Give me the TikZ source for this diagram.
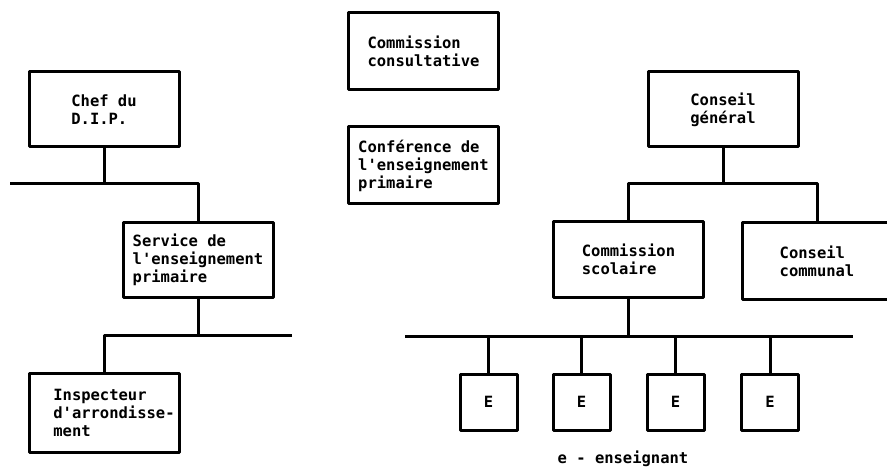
\documentclass[tikz,border=0pt]{standalone}
\usepackage{fontspec}
\setmonofont{DejaVu Sans Mono}
\newcommand{\indentline}{\hspace*{20pt}}
\begin{document}
\begin{tikzpicture}[x=1pt,y=-1pt,
  line width=3pt, line join=round,
  every node/.style={font=\ttfamily\bfseries\fontsize{15.5}{18}\selectfont},
  box/.style={draw, align=left, inner sep=0pt, minimum width=150pt, minimum height=75pt},
  ebox/.style={draw, inner sep=0pt, minimum width=57pt, minimum height=56pt}]
\useasboundingbox (0,0) rectangle (887,468);

% left: cantonal administration
\node[box] (chef) at (104,109.5) {Chef du\\D.I.P.};
\node[box] (serv) at (198,260) {Service de\\l'enseignement\\primaire};
\node[box, minimum height=79pt] (insp) at (104,412.5)
  {\indentline Inspecteur\\\indentline d'arrondisse-\\\indentline ment};

% centre: advisory bodies
\node[box, minimum height=77pt] (consult) at (423.5,51.5) {Commission\\consultative};
\node[box, minimum height=77pt] (conf) at (423.5,165.5) {Conférence de\\l'enseignement\\primaire};

% right: communal level
\node[box] (gen) at (723,109.5) {Conseil\\général};
\node[box] (scol) at (628.5,259.5) {Commission\\scolaire};
\node[box, minimum height=76pt] (comm) at (817,261) {Conseil\\communal};

\node[ebox] (e1) at (488.5,402) {E};
\node[ebox] (e2) at (581.5,402) {E};
\node[ebox] (e3) at (675.5,402) {E};
\node[ebox] (e4) at (770,402) {E};

\node[anchor=base, inner sep=0pt] (legend) at (623,463) {e - enseignant};

% bus lines
\coordinate (busA) at (10,184);
\coordinate (busB) at (292,335);
\coordinate (busC) at (0,184);
\coordinate (busDl) at (405,336);
\coordinate (busDr) at (853,336);

% connectors, left
\draw (chef.south) -- (chef.south |- busA);
\draw (busA) -- (serv.north |- busA) -- (serv.north);
\draw (serv.south) -- (serv.south |- busB);
\draw (busB) -- (insp.north |- busB) -- (insp.north);

% connectors, right
\draw (gen.south) -- (gen.south |- busC);
\draw (scol.north) -- (scol.north |- busC) -- (comm.north |- busC) -- (comm.north);
\draw (scol.south) -- (scol.south |- busDl);
\draw (busDl) -- (busDr);
\foreach \e in {e1,e2,e3,e4}
  \draw (\e.north) -- (\e.north |- busDl);
\end{tikzpicture}
\end{document}
